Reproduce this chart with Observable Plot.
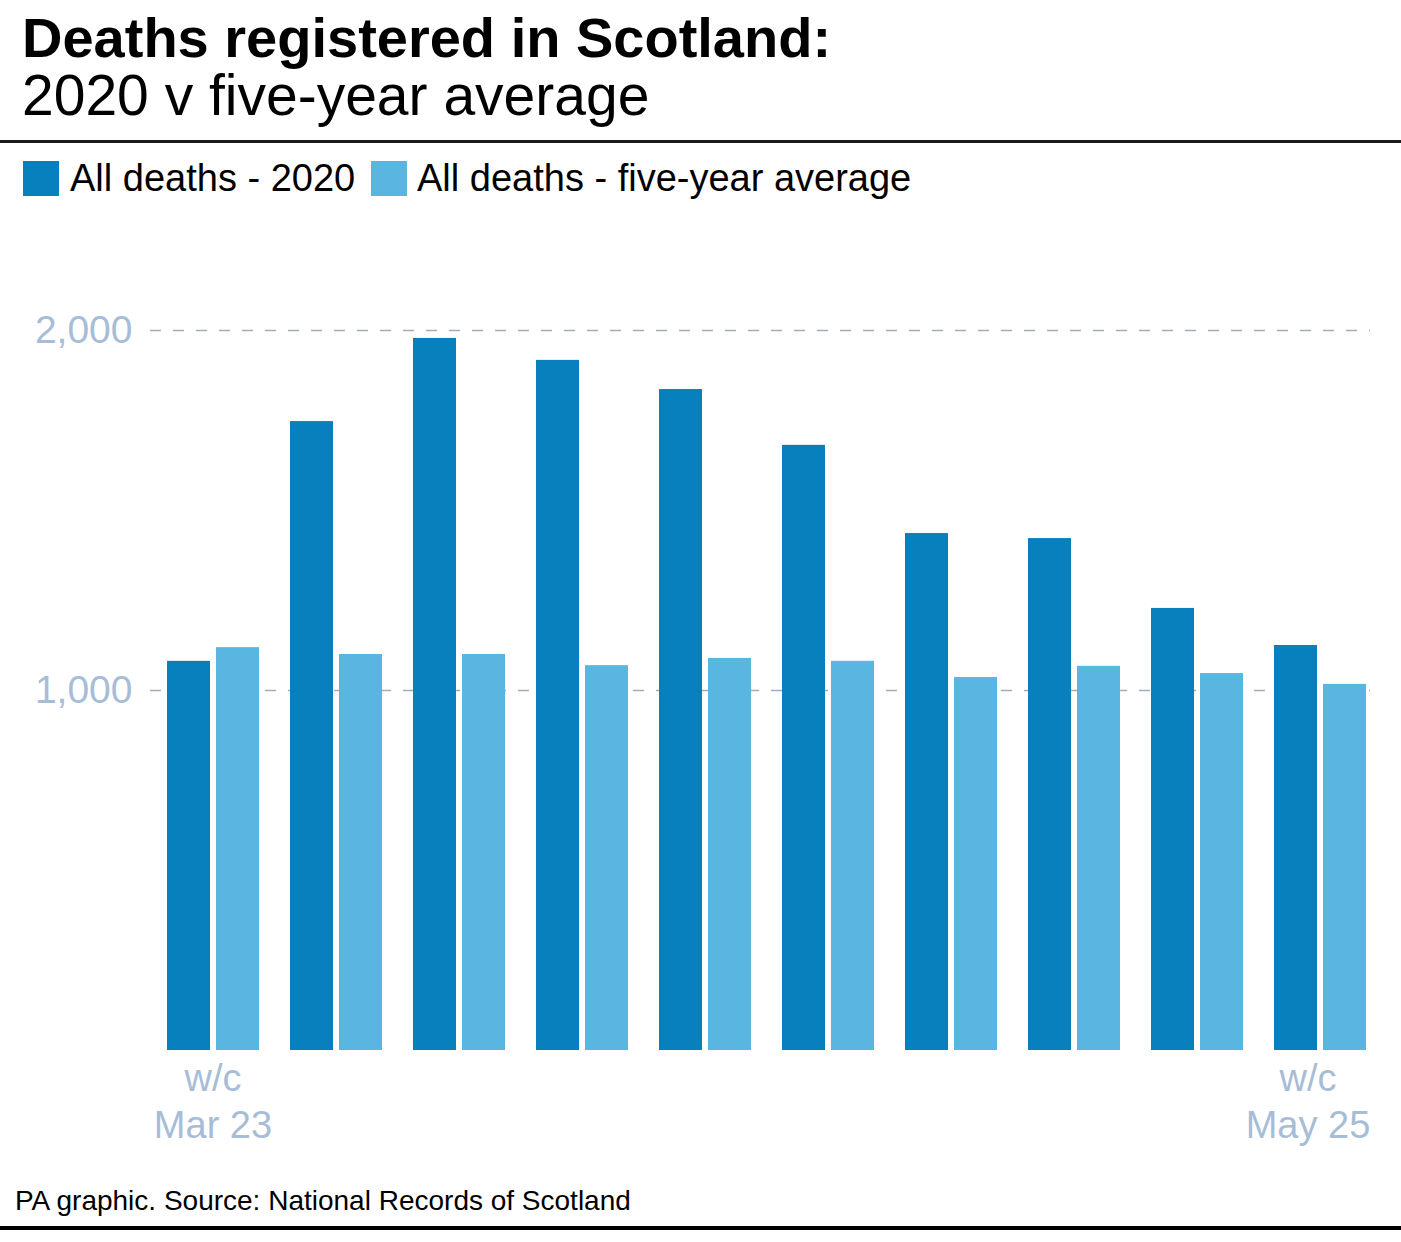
<!DOCTYPE html>
<html>
<head>
<meta charset="utf-8">
<script src="https://cdn.jsdelivr.net/npm/d3@7"></script>
<script src="https://cdn.jsdelivr.net/npm/@observablehq/plot@0.6"></script>
<style>
  html, body { margin: 0; padding: 0; background: #fff; }
  #page { position: relative; width: 1401px; height: 1242px; overflow: hidden; font-family: "Liberation Sans", Arial, Helvetica, sans-serif; color: #000; }
  .abs { position: absolute; white-space: nowrap; line-height: 1; }
  #title { left: 22px; top: 10px; font-size: 56px; font-weight: bold; }
  #subtitle { left: 22px; top: 67px; font-size: 57px; font-weight: normal; }
  #ruleTop { position: absolute; left: 0; top: 140px; width: 1401px; height: 3px; background: #1a1a1a; }
  .swatch { position: absolute; top: 161px; width: 36px; height: 35px; }
  .legtext { position: absolute; top: 159px; font-size: 38px; line-height: 1; white-space: nowrap; }
  #chart { position: absolute; left: 0; top: 200px; width: 1401px; height: 960px; }
  #chart svg { position: absolute; left: 0; top: 0; }
  #source { left: 15px; top: 1187px; font-size: 28px; }
  #ruleBottom { position: absolute; left: 0; top: 1226px; width: 1401px; height: 4px; background: #000; }
</style>
</head>
<body>
<div id="page">
  <div id="title" class="abs">Deaths registered in Scotland:</div>
  <div id="subtitle" class="abs">2020 v five-year average</div>
  <div id="ruleTop"></div>
  <div id="legend"></div>
  <div id="chart"></div>
  <div id="source" class="abs">PA graphic. Source: National Records of Scotland</div>
  <div id="ruleBottom"></div>
</div>
<script>
// ---- data ----
const weeks = ["Mar 23", "Mar 30", "Apr 6", "Apr 13", "Apr 20", "Apr 27", "May 4", "May 11", "May 18", "May 25"];
const deaths2020 = [1081, 1747, 1978, 1917, 1836, 1681, 1436, 1422, 1228, 1125];
const fiveYearAverage = [1119, 1100, 1100, 1069, 1089, 1081, 1036, 1067, 1047, 1017];
const seriesNames = ["All deaths - 2020", "All deaths - five-year average"];
const seriesColors = ["#0780bd", "#58b6e0"];
const yTicks = [1000, 2000];
const firstWeekLabel = "w/c\nMar 23";
const lastWeekLabel = "w/c\nMay 25";

// ---- legend ----
const legend = document.getElementById("legend");
const swatchLefts = [23, 371];
const textLefts = [70, 417];
seriesNames.forEach((name, i) => {
  const sw = document.createElement("div");
  sw.className = "swatch";
  sw.style.left = swatchLefts[i] + "px";
  sw.style.background = seriesColors[i];
  legend.appendChild(sw);
  const t = document.createElement("div");
  t.className = "legtext";
  t.style.left = textLefts[i] + "px";
  t.textContent = name;
  legend.appendChild(t);
});

// ---- chart ----
const rows = weeks.flatMap((w, i) => [
  {week: w, series: seriesNames[0], value: deaths2020[i]},
  {week: w, series: seriesNames[1], value: fiveYearAverage[i]}
]);

const tickColor = "#a7bdd7";
const fontFamily = "Liberation Sans, Arial, Helvetica, sans-serif";
const H = 960, MT = 130, MB = 110;

// background layer: dashed gridlines and y tick labels
const grid = Plot.plot({
  width: 1401,
  height: H,
  marginLeft: 150,
  marginRight: 31,
  marginTop: MT,
  marginBottom: MB,
  style: {fontFamily, background: "transparent", overflow: "visible"},
  x: {axis: null},
  y: {domain: [0, 2000], axis: null},
  marks: [
    Plot.ruleY(yTicks, {stroke: "#9eadbd", strokeWidth: 1.5, strokeDasharray: "11,12"}),
    Plot.text(yTicks, {y: d => d, text: d => d3.format(",")(d), frameAnchor: "left", textAnchor: "end", dx: -18, fontSize: 39, fill: tickColor})
  ]
});

// foreground layer: grouped bars, faceted by week
const bars = Plot.plot({
  width: 1401,
  height: H,
  marginLeft: 164,
  marginRight: 33,
  marginTop: MT,
  marginBottom: MB,
  style: {fontFamily, background: "transparent", overflow: "visible"},
  facet: {data: rows, x: "week"},
  fx: {domain: weeks, paddingInner: 0.243, paddingOuter: 0, axis: null, label: null},
  x: {domain: seriesNames, paddingInner: 0.125, paddingOuter: 0, axis: null, label: null},
  y: {domain: [0, 2000], axis: null, label: null},
  color: {domain: seriesNames, range: seriesColors},
  marks: [
    Plot.barY(rows, {x: "series", y: "value", fill: "series"}),
    Plot.text(rows, {text: d => (d.week === weeks[0] && d.series === seriesNames[0]) ? firstWeekLabel : null,
      frameAnchor: "bottom", lineAnchor: "top", dy: 6, fontSize: 38, lineHeight: 1.26, fill: tickColor}),
    Plot.text(rows, {text: d => (d.week === weeks[weeks.length - 1] && d.series === seriesNames[0]) ? lastWeekLabel : null,
      frameAnchor: "bottom", lineAnchor: "top", dy: 6, dx: -12, fontSize: 38, lineHeight: 1.26, fill: tickColor})
  ]
});

const chartDiv = document.getElementById("chart");
chartDiv.appendChild(grid);
chartDiv.appendChild(bars);
</script>
</body>
</html>
